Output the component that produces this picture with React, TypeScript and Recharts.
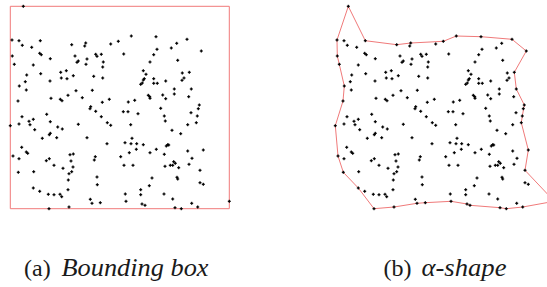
import React from "react";
import { ScatterChart, Scatter, XAxis, YAxis, ReferenceArea } from "recharts";

// Point set (x, y in plot units; y grows downward)
const pointX: number[] = [
  23.3, 12, 19, 22.3, 31.7, 40.3, 12.3, 14.3, 39.7, 41.3, 50.3, 33.3, 26.7, 25.3, 19.3, 26.3, 18, 40.7, 50, 51,
  60.3, 62, 68, 71.7, 85.7, 84.7, 75, 78.3, 77, 87, 86, 60.7, 66.3, 61.3, 67, 73.3, 76, 82.3, 90.7, 90,
  92.3, 93.7, 95.7, 97, 101.3, 103.3, 102.7, 102.7, 102.3, 109.3, 110.7, 118.3,
  131.3, 156, 123.7, 157, 153.7, 150, 171.3, 176.7, 187, 201.3, 177.7, 143.3, 146, 144.3, 143.3, 142.3, 140.7, 153.7,
  153.7, 157.3, 165.7, 182.3, 189.3, 184, 182, 174.3, 174.3, 191.3, 188.7, 162.7, 165.7, 148.3, 149.7, 150, 134.7, 128.3,
  160.7, 199.3, 198.3,
  22, 19, 29, 30, 33.3, 34.7, 46.7, 50.3, 42.3, 49.3, 50.3, 57.7, 62.3, 56.7, 78.3, 95.7, 101.3, 107.3, 110.7, 87,
  107, 10.3, 21.7, 26.3, 27.7, 13, 19, 18.3, 33.7, 46.3, 49.3, 54, 63, 70, 73.3, 71, 73, 71.7, 69, 68.3,
  68, 95.3, 94.3, 97, 97.3, 33.3, 39.7, 48.3, 54, 60, 61.7, 90.3, 92, 100.3, 69, 49,
  123.3, 128, 138, 130.7, 164.3, 165.3, 172, 180.7, 187.7, 191, 197.3, 196.3, 132, 125, 131, 136.7, 143.3, 136.3, 129.3, 120.7,
  150, 156.3, 166.3, 167.7, 168.7, 164.3, 187.7, 203.3, 192, 124, 133, 165, 170.3, 172.7, 173.7, 175.3, 178.7, 189, 200, 152,
  177, 177.7, 149.3, 200, 203.3, 140.7, 125.3, 140.7, 164, 172.7, 126, 142, 145, 175, 181.3, 191.7, 197.7, 229.3,
];
const pointY: number[] = [
  6.3, 40, 40.7, 45.3, 47.3, 40.7, 56, 64.3, 53.3, 54.7, 58.7, 65, 75, 81.7, 86, 90, 101, 73.7, 81, 98.3,
  99.3, 100.7, 95.3, 44.7, 43, 46, 56, 61, 62.3, 59, 64.3, 72.3, 70.7, 78, 78.7, 75.7, 90.7, 97.7, 106.7, 108.7,
  90.3, 76.3, 54.3, 56.3, 54.3, 62, 67, 78, 102.3, 99.3, 44, 41.3,
  36, 36.7, 54, 49.3, 54.7, 62, 48, 43.3, 39.3, 51, 60.3, 70.7, 74.3, 78.7, 80, 83, 84.3, 78.7,
  83.3, 83.3, 81, 73, 72.3, 78, 80.3, 89, 94, 89, 96.7, 95, 98.7, 95.3, 96.7, 98.3, 100.3, 102,
  108.3, 105, 108.7,
  116.7, 124, 121.3, 124.7, 119.3, 129.7, 114.3, 121.7, 138.3, 134.7, 133.3, 127, 129, 137.7, 124.3, 111.3, 116.7, 122.7, 125.3, 137.7,
  143.7, 125.7, 147.3, 152, 153.3, 156, 158.7, 172.3, 171.7, 160.7, 158.7, 165.3, 168.3, 154.7, 154, 161, 167, 171.7, 173.7, 180,
  189.7, 156.7, 160, 177, 184.7, 188, 191.3, 194.3, 194.7, 194.3, 196.7, 199.3, 203.3, 202.7, 207, 208.7,
  111.7, 111.7, 113.7, 124.7, 116, 121, 130.3, 133.7, 124.7, 112.7, 116, 122.7, 138.3, 142.7, 143.7, 143.7, 144.7, 149.3, 152.7, 156.7,
  152.7, 149.3, 146, 144.7, 145, 154.3, 151, 150, 158.3, 165.3, 165.3, 166.3, 165.3, 165.3, 161.7, 163.3, 167.7, 164.3, 170.3, 178,
  177.3, 179, 185.7, 182.7, 184.3, 189.7, 194, 194.7, 194, 199, 201.3, 204, 205.3, 207.7, 208.7, 203.3, 207, 201.3,
];

// Alpha-shape boundary vertices (clockwise from the top point)
const shapeX: number[] = [
  23.3, 40.3, 71.7, 85.7, 118.3, 131.3, 156, 187, 201.3, 189.3, 191.3, 199.3, 197.3, 196.3, 203.3, 200, 229.3,
  197.7, 181.3, 175, 145, 142, 126, 100.3, 92, 69, 49, 33.3, 18.3, 13, 10.3, 18, 19.3, 14.3, 12.3, 12, 23.3,
];
const shapeY: number[] = [
  6.3, 40.7, 44.7, 43, 41.3, 36, 36.7, 39.3, 51, 72.3, 89, 105, 116, 122.7, 150, 170.3, 201.3,
  207, 208.7, 207.7, 205.3, 204, 201.3, 202.7, 203.3, 207, 208.7, 188, 172.3, 156, 125.7, 101, 86, 64.3, 56, 40, 6.3,
];

const captionLabels: string[] = ["(a)", "(b)"];
const captionTitles: string[] = ["Bounding box", "\u03b1-shape"];

const points = pointX.map((x, i) => ({ x, y: pointY[i] }));
const shape = shapeX.map((x, i) => ({ x, y: shapeY[i] }));

const minX = Math.min(...pointX);
const maxX = Math.max(...pointX);
const minY = Math.min(...pointY);
const maxY = Math.max(...pointY);

const RED = "#f07a7a";

const Dot = (props: any) => {
  const { cx, cy } = props;
  if (cx == null || cy == null) return <g />;
  return (
    <g>
      <rect x={cx - 1.5} y={cy - 0.6} width={3} height={1.2} fill="#000" />
      <rect x={cx - 0.6} y={cy - 1.5} width={1.2} height={3} fill="#000" />
    </g>
  );
};

const Empty = () => <g />;

const Panel = ({ kind }: { kind: "box" | "alpha" }) => (
  <ScatterChart width={240} height={215} margin={{ top: 0, right: 0, bottom: 0, left: 0 }}>
    <XAxis type="number" dataKey="x" domain={[0, 240]} hide allowDataOverflow />
    <YAxis type="number" dataKey="y" domain={[0, 215]} reversed hide allowDataOverflow />
    {kind === "box" ? (
      <ReferenceArea
        x1={minX}
        x2={maxX}
        y1={minY}
        y2={maxY}
        fill="none"
        fillOpacity={0}
        stroke={RED}
        strokeWidth={1}
        strokeOpacity={1}
        ifOverflow="visible"
      />
    ) : (
      <Scatter
        data={shape}
        line={{ stroke: RED, strokeWidth: 1 }}
        shape={Empty}
        isAnimationActive={false}
      />
    )}
    <Scatter data={points} shape={Dot} isAnimationActive={false} />
  </ScatterChart>
);

export default function App() {
  return (
    <div
      style={{
        position: "absolute",
        left: 0,
        top: 0,
        width: 547,
        height: 287,
        overflow: "hidden",
        background: "#fff",
      }}
    >
      <div style={{ position: "absolute", left: 0, top: 0 }}>
        <Panel kind="box" />
      </div>
      <div style={{ position: "absolute", left: 325, top: 0 }}>
        <Panel kind="alpha" />
      </div>
      <svg
        width={547}
        height={287}
        style={{ position: "absolute", left: 0, top: 0, pointerEvents: "none" }}
      >
        <g fontFamily="'Liberation Serif', 'DejaVu Serif', serif" fill="#1a1a1a">
          <text x={24} y={276} fontSize={24}>{captionLabels[0]}</text>
          <text x={61.5} y={276} fontSize={25} fontStyle="italic" textLength={147} lengthAdjust="spacingAndGlyphs">
            {captionTitles[0]}
          </text>
          <text x={383.5} y={276} fontSize={24}>{captionLabels[1]}</text>
          <text x={421.5} y={276} fontSize={25} fontStyle="italic" textLength={85} lengthAdjust="spacingAndGlyphs">
            {captionTitles[1]}
          </text>
        </g>
      </svg>
    </div>
  );
}
